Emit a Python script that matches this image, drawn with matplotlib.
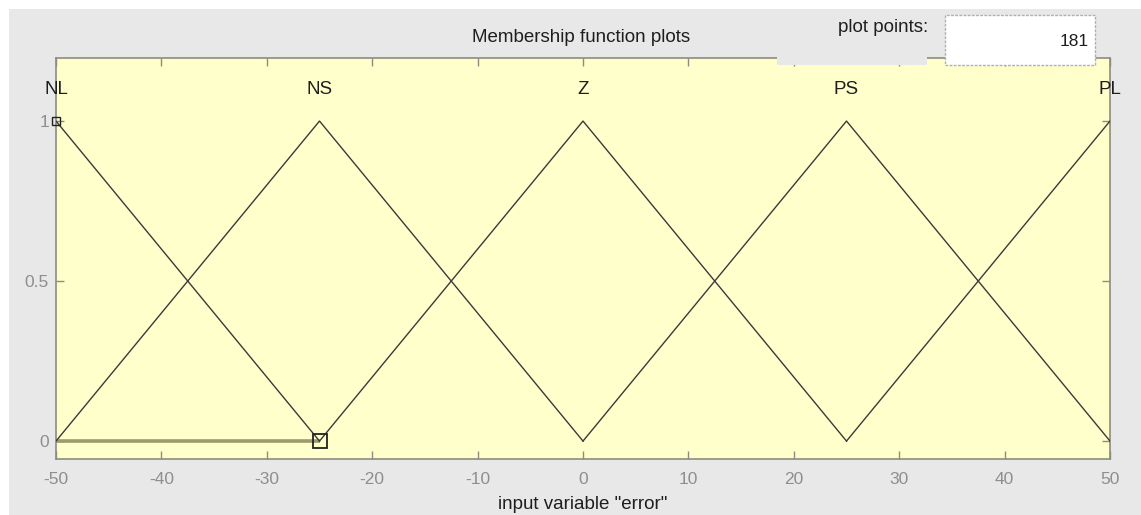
import matplotlib
matplotlib.use('Agg')
import matplotlib.pyplot as plt
from matplotlib.patches import Rectangle

# membership functions of the input variable "error"
mf_names = ['NL', 'NS', 'Z', 'PS', 'PL']
mf_params = [[-75, -50, -25], [-50, -25, 0], [-25, 0, 25], [0, 25, 50], [25, 50, 75]]
x_ticks = [-50, -40, -30, -20, -10, 0, 10, 20, 30, 40, 50]
y_ticks = [0, 0.5, 1]
y_tick_labels = ['0', '0.5', '1']
plot_points = 181

_PANEL = '#e8e8e8'
_AXBG = '#ffffcc'
_SPINE = '#8c8c80'
_TICK_TXT = '#8e8e8e'
_LINE = '#3a3a3a'
_TXT = '#1e1e1e'

plt.rcParams['font.family'] = ['Liberation Sans', 'DejaVu Sans']

W, H = 1141, 515
fig = plt.figure(figsize=(W / 100, H / 100), dpi=100)
fig.patch.set_facecolor('white')

def fx(px):
    return px / W

def fy(py):
    return 1 - py / H

# grey panel behind everything
fig.patches.append(Rectangle((fx(9), 0), 1 - fx(9), fy(9), transform=fig.transFigure,
                             facecolor=_PANEL, edgecolor='none', zorder=-10))

ax = fig.add_axes([fx(56), fy(459), fx(1110) - fx(56), fy(58) - fy(459)])
ax.set_facecolor(_AXBG)
for sp in ax.spines.values():
    sp.set_color(_SPINE)
    sp.set_linewidth(1.2)

for (a, b, c) in mf_params:
    ax.plot([a, b, c], [0, 1, 0], color=_LINE, lw=1.0, zorder=3)

for name, (a, b, c) in zip(mf_names, mf_params):
    ax.text(b, 1.1, name, ha='center', va='center', fontsize=13.5, color=_TXT,
            clip_on=False, zorder=6)

# highlighted baseline segment with its endpoint markers
ax.plot([-50, -25], [0, 0], color='#9c9a6c', lw=2.6, zorder=2, solid_capstyle='butt')
ax.plot([-50], [1], marker='s', ms=6, mfc='none', mec='#222222', mew=1.0, zorder=4,
        clip_on=False)
ax.plot([-25], [0], marker='s', ms=10, mfc='none', mec='#222222', mew=1.3, zorder=4)

ax.set_xlim(-50, 50)
ax.set_ylim(-0.056, 1.197)
ax.set_xticks(x_ticks)
ax.set_xticklabels([str(v) for v in x_ticks])
ax.set_yticks(y_ticks)
ax.set_yticklabels(y_tick_labels)
ax.tick_params(direction='in', length=6, width=1.0, color=_SPINE,
               top=True, right=True, labelcolor=_TICK_TXT, labelsize=12.5)
ax.tick_params(axis='x', pad=9)
ax.tick_params(axis='y', pad=5)

ax.set_xlabel('input variable "error"', fontsize=13.5, color=_TXT, labelpad=7)

fig.text(fx(581), fy(37), 'Membership function plots', ha='center', va='center',
         fontsize=13.5, color=_TXT)

# plot points control over the top edge
fig.patches.append(Rectangle((fx(777), fy(65)), fx(927) - fx(777), fy(10) - fy(65),
                             transform=fig.transFigure, facecolor=_PANEL,
                             edgecolor='none', zorder=5))
fig.patches.append(Rectangle((fx(945), fy(65)), fx(1095) - fx(945), fy(15) - fy(65),
                             transform=fig.transFigure, facecolor='white',
                             edgecolor='#b0b0b0', lw=1.0, ls=(0, (2, 1)), zorder=6))
fig.text(fx(928), fy(27), 'plot points:', ha='right', va='center',
         fontsize=13.5, color=_TXT, zorder=7)
fig.text(fx(1089), fy(41), str(plot_points), ha='right', va='center',
         fontsize=12.5, color=_TXT, zorder=7)

fig.savefig('out.png', dpi=100, facecolor='white')
